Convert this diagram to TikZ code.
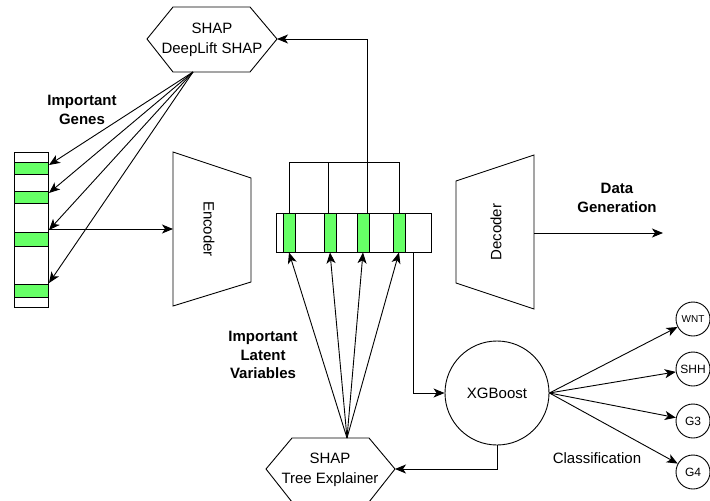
\documentclass[tikz,border=0pt]{standalone}
\usepackage{fontspec}
\setmainfont{Liberation Sans}
\usetikzlibrary{arrows.meta,calc}
\definecolor{lgreen}{HTML}{66FF66}
\begin{document}
\begin{tikzpicture}[x=1pt,y=-1pt, line width=0.9pt,
 arr/.style={-{Stealth[length=11pt,width=9pt,inset=3pt]}},
 lbl/.style={font=\fontsize{15}{20}\selectfont, align=center, inner sep=0},
 blbl/.style={font=\fontsize{15}{19}\selectfont\bfseries, align=center, inner sep=0},
 stripe/.style={draw, fill=lgreen, inner sep=0},
 cls/.style={draw, circle, minimum size=34pt, inner sep=0, font=\fontsize{12}{14}\selectfont}]
\useasboundingbox (0,0) rectangle (710,501);
% DeepLift SHAP hexagon
\draw (147,39) -- (173,7) -- (250,7) -- (277,39) -- (250,72) -- (173,72) -- cycle;
\node[lbl] (deep) at (212,40) {SHAP\\DeepLift SHAP};
\coordinate (deepR) at (277,39);
\coordinate (deepB) at (193,72);
% gene bar
\node[draw, minimum width=34pt, minimum height=155pt, inner sep=0] (gbar) at (31,229.5) {};
\node[stripe, minimum width=34pt, minimum height=12pt] (g1) at (31,168) {};
\node[stripe, minimum width=34pt, minimum height=12pt] (g2) at (31,197) {};
\node[stripe, minimum width=34pt, minimum height=14pt] (g3) at (31,239) {};
\node[stripe, minimum width=34pt, minimum height=13pt] (g4) at (31,290.5) {};
\coordinate (t1) at (49,165);
\coordinate (t2) at (49,193);
\coordinate (t3) at (49,230);
\coordinate (t4) at (49,283);
\foreach \t in {t1,t2,t3,t4} \draw[arr] (deepB) -- (\t);
\node[blbl] (genes) at (82,110) {Important\\Genes};
% encoder
\draw (173,152) -- (251,178) -- (251,282) -- (173,306) -- cycle;
\node[lbl, rotate=-90] (enc) at (209,229) {Encoder};
\coordinate (encL) at (173,229);
\coordinate (gsrc) at (48,229);
\draw[arr] (gsrc) -- (encL);
% latent bar
\node[draw, minimum width=155pt, minimum height=39pt, inner sep=0] (lbar) at (353.5,232.5) {};
\node[stripe, minimum width=12pt, minimum height=39pt] (l1) at (289,232.5) {};
\node[stripe, minimum width=12pt, minimum height=39pt] (l2) at (330,232.5) {};
\node[stripe, minimum width=12pt, minimum height=39pt] (l3) at (363,232.5) {};
\node[stripe, minimum width=12pt, minimum height=39pt] (l4) at (399,232.5) {};
\coordinate (b1) at (289,162);
\coordinate (b2) at (328,162);
\coordinate (b3) at (367,162);
\coordinate (b4) at (399,162);
\draw (l1.north) -- (b1) -- (b4) -- (l4.north);
\draw (b2) -- (328,213);
\draw (b3) -- (367,213);
\coordinate (topc) at (367,39);
\draw[arr] (b3) -- (topc) -- (deepR);
% decoder
\draw (456,181) -- (534,155) -- (534,309) -- (456,283) -- cycle;
\node[lbl, rotate=90] (dec) at (496,232) {Decoder};
\coordinate (decR) at (534,233);
\coordinate (genEnd) at (663,233);
\draw[arr] (decR) -- (genEnd);
\node[blbl] (datagen) at (617,198) {Data\\Generation};
% tree explainer hexagon
\draw (266,469) -- (292,438) -- (369,438) -- (395,469) -- (369,502) -- (292,502) -- cycle;
\node[lbl] (tree) at (330,470) {SHAP\\Tree Explainer};
\coordinate (treeT) at (347,438);
\coordinate (treeR) at (395,469);
\foreach \l in {l1,l2,l3,l4} \draw[arr] (treeT) -- (\l.south);
\node[blbl, font=\fontsize{15}{18.5}\selectfont\bfseries] (latent) at (263,355) {Important\\Latent\\Variables};
% XGBoost
\node[draw, circle, minimum size=104pt, inner sep=0, font=\fontsize{15}{18}\selectfont] (xgb) at (497,393) {XGBoost};
\coordinate (lout) at (413,252);
\coordinate (lturn) at (413,393);
\draw[arr] (lout) -- (lturn) -- (xgb.west);
\coordinate (xturn) at (497,469);
\draw[arr] (xgb.south) -- (xturn) -- (treeR);
% classes
\node[cls, font=\fontsize{10}{12}\selectfont] (wnt) at (693,319) {WNT};
\node[cls] (shh) at (693,369) {SHH};
\node[cls] (g3c) at (693,421) {G3};
\node[cls] (g4c) at (693,472) {G4};
\foreach \c in {wnt,shh,g3c,g4c} \draw[arr] (xgb.east) -- (\c);
\node[lbl] (clsf) at (597,458) {Classification};
\end{tikzpicture}
\end{document}
